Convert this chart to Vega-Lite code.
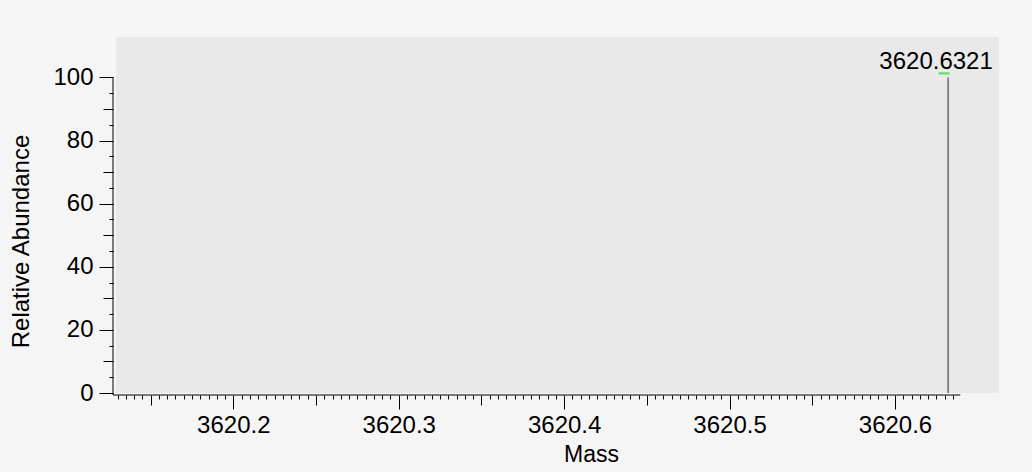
{
  "$schema": "https://vega.github.io/schema/vega-lite/v6.json",
  "width": 883,
  "height": 356,
  "autosize": "none",
  "padding": {"left": 116, "top": 37, "right": 33, "bottom": 79},
  "background": "#f5f5f5",
  "config": {
    "view": {"fill": "#e9e9e9", "stroke": null},
    "font": "Liberation Sans",
    "axis": {"labelFont": "Liberation Sans", "titleFont": "Liberation Sans", "labelColor": "#000000", "titleColor": "#000000", "tickColor": "#000000"}
  },
  "data": {"values": [{"mass": 3620.6321, "abundance": 100}]},
  "layer": [
    {
      "mark": {"type": "rule", "color": "#2a2a2a", "strokeWidth": 1},
      "encoding": {
        "x": {
          "field": "mass",
          "type": "quantitative",
          "scale": {"domain": [3620.12908, 3620.66288], "nice": false, "zero": false},
          "axis": {
            "orient": "bottom",
            "offset": 2,
            "domain": false,
            "grid": false,
            "tickCount": 500,
            "values": [3620.13, 3620.135, 3620.14, 3620.145, 3620.15, 3620.155, 3620.16, 3620.165, 3620.17, 3620.175, 3620.18, 3620.185, 3620.19, 3620.195, 3620.2, 3620.205, 3620.21, 3620.215, 3620.22, 3620.225, 3620.23, 3620.235, 3620.24, 3620.245, 3620.25, 3620.255, 3620.26, 3620.265, 3620.27, 3620.275, 3620.28, 3620.285, 3620.29, 3620.295, 3620.3, 3620.305, 3620.31, 3620.315, 3620.32, 3620.325, 3620.33, 3620.335, 3620.34, 3620.345, 3620.35, 3620.355, 3620.36, 3620.365, 3620.37, 3620.375, 3620.38, 3620.385, 3620.39, 3620.395, 3620.4, 3620.405, 3620.41, 3620.415, 3620.42, 3620.425, 3620.43, 3620.435, 3620.44, 3620.445, 3620.45, 3620.455, 3620.46, 3620.465, 3620.47, 3620.475, 3620.48, 3620.485, 3620.49, 3620.495, 3620.5, 3620.505, 3620.51, 3620.515, 3620.52, 3620.525, 3620.53, 3620.535, 3620.54, 3620.545, 3620.55, 3620.555, 3620.56, 3620.565, 3620.57, 3620.575, 3620.58, 3620.585, 3620.59, 3620.595, 3620.6, 3620.605, 3620.61, 3620.615, 3620.62, 3620.625, 3620.63, 3620.635],
            "tickSize": {"condition": [{"test": "abs(datum.value*10 - round(datum.value*10)) < 0.000001", "value": 14}, {"test": "abs(datum.value*20 - round(datum.value*20)) < 0.000001", "value": 10}], "value": 4},
            "tickWidth": 1,
            "labelExpr": "abs(datum.value*10 - round(datum.value*10)) < 0.000001 ? format(datum.value, '.1f') : ''",
            "labelFontSize": 24,
            "labelBaseline": "alphabetic",
            "labelPadding": 23,
            "labelOverlap": false,
            "labelFlush": false,
            "labelBound": false,
            "title": "Mass",
            "titleFontSize": 23,
            "titleFontWeight": "normal",
            "titleX": 475,
            "titleY": 66,
            "titleBaseline": "alphabetic",
            "titleAlign": "center"
          }
        },
        "y": {
          "field": "abundance",
          "type": "quantitative",
          "scale": {"domain": [0, 112.8], "nice": false, "zero": true},
          "axis": {
            "orient": "left",
            "offset": 3,
            "domain": false,
            "grid": false,
            "tickCount": 500,
            "values": [0, 5, 10, 15, 20, 25, 30, 35, 40, 45, 50, 55, 60, 65, 70, 75, 80, 85, 90, 95, 100],
            "tickSize": {"condition": [{"test": "datum.value % 20 == 0", "value": 14}, {"test": "datum.value % 10 == 0", "value": 10}], "value": 4},
            "tickWidth": 1,
            "labelExpr": "datum.value % 20 == 0 ? format(datum.value, 'd') : ''",
            "labelFontSize": 24,
            "labelBaseline": "middle",
            "labelPadding": 6,
            "labelOverlap": false,
            "labelFlush": false,
            "labelBound": false,
            "title": "Relative Abundance",
            "titleFontSize": 24,
            "titleFontWeight": "normal",
            "titleAngle": 270,
            "titleX": -85,
            "titleY": 204,
            "titleBaseline": "alphabetic",
            "titleAlign": "center"
          }
        },
        "y2": {"datum": 0}
      }
    },
    {
      "mark": {"type": "rule", "color": "#000000", "strokeWidth": 1, "xOffset": -3, "yOffset": 2},
      "encoding": {
        "x": {"datum": 3620.12908, "type": "quantitative"},
        "x2": {"datum": 3620.6395},
        "y": {"datum": 0, "type": "quantitative"}
      }
    },
    {
      "mark": {"type": "rule", "color": "#000000", "strokeWidth": 1, "xOffset": -3},
      "encoding": {
        "x": {"datum": 3620.12908, "type": "quantitative"},
        "y": {"datum": -0.63, "type": "quantitative"},
        "y2": {"datum": 100}
      }
    },
    {
      "mark": {"type": "tick", "orient": "horizontal", "color": "#1ed41e", "size": 11, "thickness": 2, "xOffset": -4, "yOffset": -4},
      "encoding": {
        "x": {"field": "mass", "type": "quantitative"},
        "y": {"field": "abundance", "type": "quantitative"}
      }
    },
    {
      "mark": {"type": "text", "align": "center", "baseline": "alphabetic", "dx": -12, "dy": -8, "fontSize": 24, "color": "#000000", "font": "Liberation Sans"},
      "encoding": {
        "x": {"field": "mass", "type": "quantitative"},
        "y": {"field": "abundance", "type": "quantitative"},
        "text": {"field": "mass", "type": "quantitative", "format": ".4f"}
      }
    }
  ]
}
